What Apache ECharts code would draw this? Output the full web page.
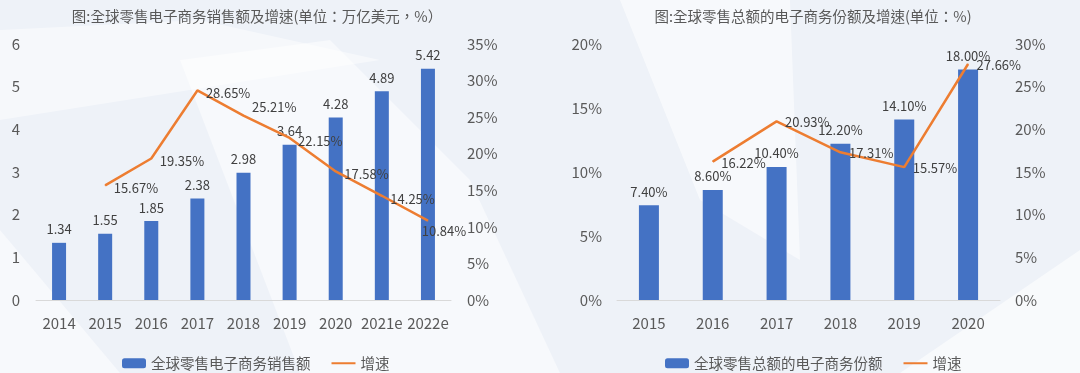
<!DOCTYPE html>
<html>
<head>
<meta charset="utf-8">
<script src="https://cdn.jsdelivr.net/npm/echarts@6/dist/echarts.min.js"></script>
<style>
html,body{margin:0;padding:0;background:#eef2f8;}
#c{width:1080px;height:373px;}
</style>
</head>
<body>
<div id="c"></div>
<script>
// Left chart data
var yearsL = ['2014','2015','2016','2017','2018','2019','2020','2021e','2022e'];
var salesL = [1.34, 1.55, 1.85, 2.38, 2.98, 3.64, 4.28, 4.89, 5.42];
var growthL = [null, 15.67, 19.35, 28.65, 25.21, 22.15, 17.58, 14.25, 10.84];
// Right chart data
var yearsR = ['2015','2016','2017','2018','2019','2020'];
var shareR = [7.40, 8.60, 10.40, 12.20, 14.10, 18.00];
var growthR = [null, 16.22, 20.93, 17.31, 15.57, 27.66];

var titleL = '图:全球零售电子商务销售额及增速(单位：万亿美元，%）';
var titleR = '图:全球零售总额的电子商务份额及增速(单位：%)';
var barNameL = '全球零售电子商务销售额';
var barNameR = '全球零售总额的电子商务份额';
var lineName = '增速';

var FONT = '"Noto Sans CJK SC", "Noto Sans", sans-serif';
var TFONT = '"Noto Sans CJK TC", "Noto Sans CJK SC", sans-serif';
var AX = '#595959', LBL = '#404040';
var BLUE = '#4472C4', ORANGE = '#ED7D31';

function lineData(arr, overrides) {
  return arr.map(function (v, i) {
    var d = { value: v };
    if (overrides && overrides[i]) d.label = overrides[i];
    return d;
  });
}

var chart = echarts.init(document.getElementById('c'), null, { renderer: 'canvas' });

var axisLabelBase = { color: AX, fontSize: 15, fontFamily: FONT };

var option = {
  backgroundColor: '#eef2f8',
  animation: false,
  textStyle: { fontFamily: FONT },
  graphic: [
    { type: 'polygon', silent: true, z: -10, shape: { points: [[0, 30], [200, 20], [380, 60], [0, 120]] }, style: { fill: 'rgba(255,255,255,0.45)' } },
    { type: 'polygon', silent: true, z: -10, shape: { points: [[180, 60], [330, 40], [470, 180], [560, 373], [300, 373]] }, style: { fill: 'rgba(255,255,255,0.5)' } },
    { type: 'polygon', silent: true, z: -10, shape: { points: [[620, 0], [790, 0], [800, 260], [700, 200]] }, style: { fill: 'rgba(255,255,255,0.55)' } },
    { type: 'polygon', silent: true, z: -10, shape: { points: [[0, 230], [120, 373], [0, 373]] }, style: { fill: 'rgba(255,255,255,0.5)' } },
    { type: 'polygon', silent: true, z: -10, shape: { points: [[1080, 250], [1080, 373], [900, 373]] }, style: { fill: 'rgba(255,255,255,0.6)' } }
  ],
  title: [
    { text: titleL, left: 252, top: 4, textAlign: 'center', textStyle: { fontSize: 14.5, fontWeight: 'normal', color: AX, fontFamily: TFONT } },
    { text: titleR, left: 808, top: 4, textAlign: 'center', textStyle: { fontSize: 14.5, fontWeight: 'normal', color: AX, fontFamily: TFONT } }
  ],
  legend: [
    { data: [{ name: barNameL }, { name: lineName + ' ', itemStyle: { opacity: 0 } }], left: 117, top: 351, itemWidth: 24, itemHeight: 10, itemGap: 20,
      textStyle: { fontSize: 14.5, color: AX, fontFamily: FONT }, formatter: function (n) { return n.trim(); } },
    { data: [{ name: barNameR }, { name: lineName, itemStyle: { opacity: 0 } }], left: 660, top: 351, itemWidth: 24, itemHeight: 10, itemGap: 20,
      textStyle: { fontSize: 14.5, color: AX, fontFamily: FONT } }
  ],
  grid: [
    { left: 36, right: 629, top: 44, bottom: 73 },
    { left: 617, right: 80, top: 44, bottom: 73 }
  ],
  xAxis: [
    { type: 'category', gridIndex: 0, data: yearsL, axisTick: { show: false },
      axisLine: { lineStyle: { color: '#d9d9d9', width: 1 } },
      axisLabel: Object.assign({ margin: 16, interval: 0 }, axisLabelBase) },
    { type: 'category', gridIndex: 1, data: yearsR, axisTick: { show: false },
      axisLine: { lineStyle: { color: '#d9d9d9', width: 1 } },
      axisLabel: Object.assign({ margin: 16, interval: 0 }, axisLabelBase) }
  ],
  yAxis: [
    { type: 'value', gridIndex: 0, min: 0, max: 6, interval: 1, position: 'left',
      axisLine: { show: false }, axisTick: { show: false }, splitLine: { show: false },
      axisLabel: Object.assign({ margin: 16 }, axisLabelBase) },
    { type: 'value', gridIndex: 0, min: 0, max: 35, interval: 5, position: 'right',
      axisLine: { show: false }, axisTick: { show: false }, splitLine: { show: false },
      axisLabel: Object.assign({ margin: 16, formatter: '{value}%' }, axisLabelBase) },
    { type: 'value', gridIndex: 1, min: 0, max: 20, interval: 5, position: 'left',
      axisLine: { show: false }, axisTick: { show: false }, splitLine: { show: false },
      axisLabel: Object.assign({ margin: 15, formatter: '{value}%' }, axisLabelBase) },
    { type: 'value', gridIndex: 1, min: 0, max: 30, interval: 5, position: 'right',
      axisLine: { show: false }, axisTick: { show: false }, splitLine: { show: false },
      axisLabel: Object.assign({ margin: 15, formatter: '{value}%' }, axisLabelBase) }
  ],
  series: [
    { name: barNameL, type: 'bar', xAxisIndex: 0, yAxisIndex: 0, data: salesL, barWidth: 14,
      itemStyle: { color: BLUE },
      label: { show: true, position: 'top', distance: 7, color: LBL, fontSize: 13, fontFamily: FONT,
        formatter: function (p) { return p.value.toFixed(2); } } },
    { name: lineName + ' ', type: 'line', xAxisIndex: 0, yAxisIndex: 1,
      data: lineData(growthL, { 4: { offset: [0, -9] }, 8: { position: 'bottom', distance: 3, offset: [16, 0] } }),
      symbol: 'circle', symbolSize: 1, lineStyle: { color: ORANGE, width: 2.5 }, itemStyle: { color: ORANGE },
      label: { show: true, position: 'right', distance: 8, offset: [0, 3], color: LBL, fontSize: 13, fontFamily: FONT,
        formatter: function (p) { return p.value.toFixed(2) + '%'; } } },
    { name: barNameR, type: 'bar', xAxisIndex: 1, yAxisIndex: 2, data: shareR, barWidth: 20,
      itemStyle: { color: BLUE },
      label: { show: true, position: 'top', distance: 7, color: LBL, fontSize: 13, fontFamily: FONT,
        formatter: function (p) { return p.value.toFixed(2) + '%'; } } },
    { name: lineName, type: 'line', xAxisIndex: 1, yAxisIndex: 3,
      data: lineData(growthR),
      symbol: 'circle', symbolSize: 1, lineStyle: { color: ORANGE, width: 2.5 }, itemStyle: { color: ORANGE },
      label: { show: true, position: 'right', distance: 8, offset: [0, 1], color: LBL, fontSize: 13, fontFamily: FONT,
        formatter: function (p) { return p.value.toFixed(2) + '%'; } } }
  ]
};
chart.setOption(option);
</script>
</body>
</html>
